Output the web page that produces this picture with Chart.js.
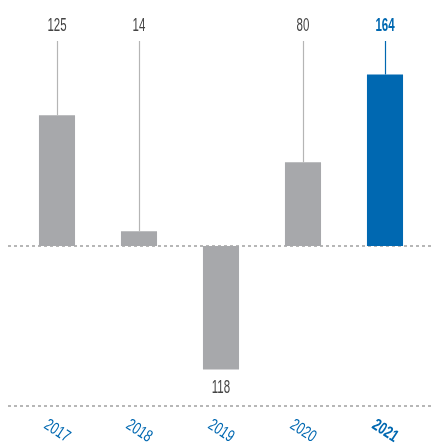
<!DOCTYPE html>
<html>
<head>
<meta charset="utf-8">
<script src="https://cdn.jsdelivr.net/npm/chart.js@4.4.0/dist/chart.umd.min.js"></script>
<style>
  html, body { margin: 0; padding: 0; background: #fff; }
  #wrap { width: 431px; height: 445px; position: relative; }
</style>
</head>
<body>
<div id="wrap"><canvas id="chart"></canvas></div>
<script>
// chart data
const years = ['2017', '2018', '2019', '2020', '2021'];
const values = [125, 14, -118, 80, 164];
const valueLabels = ['125', '14', '118', '80', '164'];
const highlight = [false, false, false, false, true];

const GREY = '#a7a8ab';
const BLUE = '#0068b1';
const FONT = '"Liberation Sans", Arial, sans-serif';

const barColors = highlight.map(h => h ? BLUE : GREY);

// condensed look: draw text squeezed horizontally
function narrowText(ctx, text, x, y, size, bold, squeeze, angle) {
    ctx.save();
    ctx.translate(x, y);
    if (angle) ctx.rotate(angle * Math.PI / 180);
    ctx.scale(squeeze, 1);
    ctx.font = (bold ? 'bold ' : '') + size + 'px ' + FONT;
    ctx.textAlign = 'center';
    ctx.textBaseline = 'middle';
    ctx.fillText(text, 0, 0);
    ctx.restore();
}

// draws dotted lines, leader lines, value labels and year labels
const decorations = {
    id: 'decorations',
    beforeDatasetsDraw(chart) {
        const ctx = chart.ctx;
        const y = chart.scales.y;
        const area = chart.chartArea;
        const zeroY = y.getPixelForValue(0);

        ctx.save();
        ctx.strokeStyle = '#a0a0a0';
        ctx.lineWidth = 1.5;
        ctx.setLineDash([3, 3]);
        ctx.beginPath();
        ctx.moveTo(8, zeroY);
        ctx.lineTo(431, zeroY);
        ctx.moveTo(8, area.bottom);
        ctx.lineTo(431, area.bottom);
        ctx.stroke();
        ctx.restore();
    },
    afterDatasetsDraw(chart) {
        const ctx = chart.ctx;
        const meta = chart.getDatasetMeta(0);
        const area = chart.chartArea;

        meta.data.forEach((bar, i) => {
            const lineColor = highlight[i] ? BLUE : '#b5b5b5';
            ctx.fillStyle = highlight[i] ? BLUE : '#444';
            if (values[i] >= 0) {
                ctx.save();
                ctx.strokeStyle = lineColor;
                ctx.lineWidth = 1.2;
                ctx.beginPath();
                ctx.moveTo(Math.round(bar.x) + 0.5, area.top);
                ctx.lineTo(Math.round(bar.x) + 0.5, bar.y);
                ctx.stroke();
                ctx.restore();
                narrowText(ctx, valueLabels[i], bar.x, 26, 18, highlight[i], 0.64, 0);
            } else {
                narrowText(ctx, valueLabels[i], bar.x, bar.y + 19, 18, highlight[i], 0.64, 0);
            }

            // rotated year labels
            ctx.fillStyle = BLUE;
            narrowText(ctx, years[i], bar.x, 431, 17, highlight[i], 0.72, 33);
        });
    }
};

new Chart(document.getElementById('chart'), {
    type: 'bar',
    data: {
        labels: years,
        datasets: [{
            data: values,
            backgroundColor: barColors,
            borderWidth: 0,
            barPercentage: 0.44,
            categoryPercentage: 1
        }]
    },
    options: {
        responsive: true,
        maintainAspectRatio: false,
        animation: false,
        layout: {
            padding: { left: 16, right: 5, top: 41, bottom: 39 }
        },
        scales: {
            x: { display: false },
            y: { display: false, min: -153, max: 196 }
        },
        plugins: {
            legend: { display: false },
            tooltip: { enabled: false }
        }
    },
    plugins: [decorations]
});
</script>
</body>
</html>
